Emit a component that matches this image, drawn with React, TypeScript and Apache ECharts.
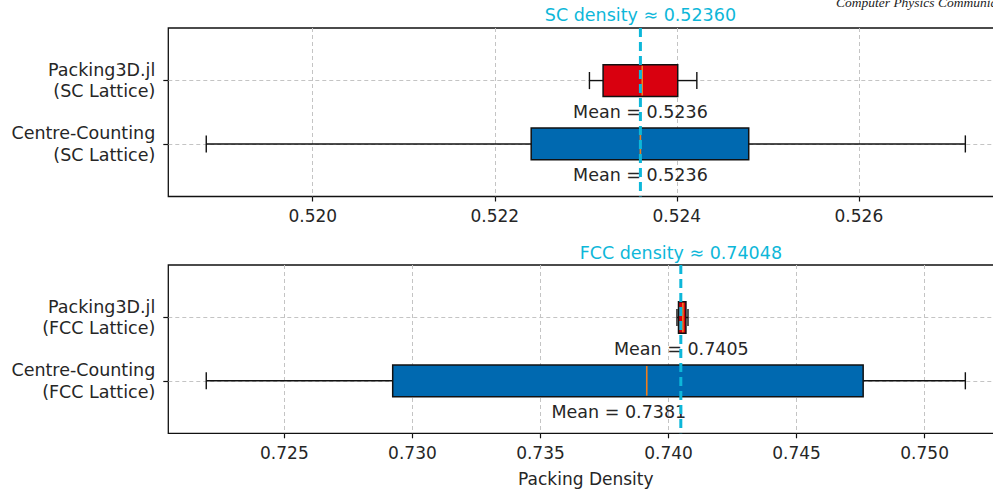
import React, { useEffect, useRef } from 'react';
import * as echarts from 'echarts';

// Rows: index 0 = Centre-Counting (lower row), index 1 = Packing3D.jl (upper row)
const rowPositions = [1, 2];
const scLabels = ['Centre-Counting\n(SC Lattice)', 'Packing3D.jl\n(SC Lattice)'];
const fccLabels = ['Centre-Counting\n(FCC Lattice)', 'Packing3D.jl\n(FCC Lattice)'];

// [whisker low, Q1, median, Q3, whisker high]
const scStats = [
  [0.51883, 0.5224, 0.5236, 0.52479, 0.52717],
  [0.52304, 0.52319, 0.52362, 0.52401, 0.52422],
];
const scMeans = [0.5236, 0.5236];
const fccStats = [
  [0.72195, 0.72923, 0.73915, 0.7476, 0.75159],
  [0.74033, 0.74039, 0.74056, 0.74068, 0.74076],
];
const fccMeans = [0.73806, 0.7405];

const scTicks = [0.52, 0.522, 0.524, 0.526];
const fccTicks = [0.725, 0.73, 0.735, 0.74, 0.745, 0.75];

const scDensity = [0.5236];
const fccDensity = [0.74048];
const scDensityLabel = 'SC density ≈ 0.52360';
const fccDensityLabel = 'FCC density ≈ 0.74048';

const boxColors = ['#0069b0', '#d9000f'];
const CYAN = '#0db7d9';
const FONT = 'DejaVu Sans';
const TEXT = '#262626';

function extentWithMargin(stats: number[][]) {
  let lo = Infinity;
  let hi = -Infinity;
  stats.forEach((s) => {
    lo = Math.min(lo, s[0]);
    hi = Math.max(hi, s[4]);
  });
  const r = hi - lo;
  return [lo - 0.05 * r, hi + 0.05 * r];
}

function renderBox(params: any, api: any) {
  const idx = params.dataIndex;
  const pos = api.value(0);
  const lo = api.value(1);
  const q1 = api.value(2);
  const med = api.value(3);
  const q3 = api.value(4);
  const hi = api.value(5);
  const mean = api.value(6);
  const unit = Math.abs(api.size([0, 1])[1]);
  const boxH = 0.5 * unit;
  const capH = 0.27 * unit;
  const pLo = api.coord([lo, pos]);
  const pQ1 = api.coord([q1, pos]);
  const pMed = api.coord([med, pos]);
  const pQ3 = api.coord([q3, pos]);
  const pHi = api.coord([hi, pos]);
  const pMean = api.coord([mean, pos]);
  const yc = pLo[1];
  const black = { stroke: '#111', lineWidth: 1.4 };
  return {
    type: 'group',
    children: [
      { type: 'line', shape: { x1: pLo[0], y1: yc, x2: pQ1[0], y2: yc }, style: black },
      { type: 'line', shape: { x1: pQ3[0], y1: yc, x2: pHi[0], y2: yc }, style: black },
      { type: 'line', shape: { x1: pLo[0], y1: yc - capH / 2, x2: pLo[0], y2: yc + capH / 2 }, style: black },
      { type: 'line', shape: { x1: pHi[0], y1: yc - capH / 2, x2: pHi[0], y2: yc + capH / 2 }, style: black },
      {
        type: 'rect',
        shape: { x: pQ1[0], y: yc - boxH / 2, width: pQ3[0] - pQ1[0], height: boxH },
        style: { fill: boxColors[idx], stroke: '#111', lineWidth: 1.5 },
      },
      {
        type: 'line',
        shape: { x1: pMed[0], y1: yc - boxH / 2 + 1, x2: pMed[0], y2: yc + boxH / 2 - 1 },
        style: { stroke: '#f07d1c', lineWidth: 1.6 },
      },
      {
        type: 'text',
        x: pMean[0],
        y: yc + 31,
        style: {
          text: 'Mean = ' + mean.toFixed(4),
          fill: TEXT,
          font: '17.5px "DejaVu Sans"',
          align: 'center',
          verticalAlign: 'middle',
        },
      },
    ],
  };
}

function makeRefRenderer(label: string, dist: number) {
  return (params: any, api: any) => {
    const cs = params.coordSys;
    const x = api.coord([api.value(0), 1.5])[0];
    return {
      type: 'group',
      children: [
        {
          type: 'line',
          shape: { x1: x, y1: cs.y, x2: x, y2: cs.y + cs.height },
          style: { stroke: CYAN, lineWidth: 3, lineDash: [9, 5] },
        },
        {
          type: 'text',
          x,
          y: cs.y - dist,
          style: {
            text: label,
            fill: CYAN,
            font: '17.5px "DejaVu Sans"',
            align: 'center',
            verticalAlign: 'bottom',
          },
        },
      ],
    };
  };
}

export default function App() {
  const ref = useRef<HTMLDivElement>(null);

  useEffect(() => {
    if (!ref.current) return;
    const chart = echarts.init(ref.current, undefined, { renderer: 'svg' });
    const scExt = extentWithMargin(scStats);
    const fccExt = extentWithMargin(fccStats);
    const yMin = 1 - 52.5 / 63.3;
    const yMax = 2 + 52.5 / 63.3;

    const makeX = (gridIndex: number, ext: number[], ticks: number[], name: string) => ({
      type: 'value',
      gridIndex,
      min: ext[0],
      max: ext[1],
      name,
      nameLocation: 'middle',
      nameGap: 37,
      nameTextStyle: { fontFamily: FONT, fontSize: 17, color: TEXT },
      axisLine: { show: false },
      axisTick: { show: true, length: 5, customValues: ticks, lineStyle: { color: '#111', width: 1.2 } },
      axisLabel: {
        customValues: ticks,
        formatter: (v: number) => v.toFixed(3),
        fontFamily: FONT,
        fontSize: 17,
        color: TEXT,
        margin: 11,
      },
      splitLine: { show: true, lineStyle: { color: '#c4c4c4', type: [4, 3], width: 1 } },
    });

    const makeY = (gridIndex: number, labels: string[]) => ({
      type: 'value',
      gridIndex,
      min: yMin,
      max: yMax,
      axisLine: { show: false },
      axisTick: { show: true, length: 5, customValues: rowPositions, lineStyle: { color: '#111', width: 1.2 } },
      axisLabel: {
        customValues: rowPositions,
        formatter: (v: number) => labels[rowPositions.indexOf(Math.round(v))] || '',
        fontFamily: FONT,
        fontSize: 17.5,
        lineHeight: 21.6,
        color: TEXT,
        align: 'right',
        margin: 13,
      },
      splitLine: { show: true, lineStyle: { color: '#c4c4c4', type: [4, 3], width: 1 } },
    });

    const boxData = (stats: number[][], means: number[]) =>
      stats.map((s, i) => [rowPositions[i], s[0], s[1], s[2], s[3], s[4], means[i]]);

    chart.setOption({
      animation: false,
      backgroundColor: '#ffffff',
      grid: [
        { left: 168.3, top: 28, width: 835, height: 168.5, show: true, borderColor: '#111', borderWidth: 1.3, backgroundColor: 'transparent', outerBoundsMode: 'none' },
        { left: 168.3, top: 265, width: 835, height: 168.3, show: true, borderColor: '#111', borderWidth: 1.3, backgroundColor: 'transparent', outerBoundsMode: 'none' },
      ],
      xAxis: [makeX(0, scExt, scTicks, ''), makeX(1, fccExt, fccTicks, 'Packing Density')],
      yAxis: [makeY(0, scLabels), makeY(1, fccLabels)],
      graphic: [
        {
          type: 'text',
          left: 836,
          top: -5,
          style: {
            text: 'Computer Physics Communications',
            fill: '#222',
            font: 'italic 13.5px "Liberation Serif"',
          },
        },
      ],
      series: [
        {
          type: 'custom',
          xAxisIndex: 0,
          yAxisIndex: 0,
          renderItem: renderBox,
          encode: { x: [1, 2, 3, 4, 5, 6], y: 0 },
          data: boxData(scStats, scMeans),
          z: 3,
        },
        {
          type: 'custom',
          xAxisIndex: 1,
          yAxisIndex: 1,
          renderItem: renderBox,
          encode: { x: [1, 2, 3, 4, 5, 6], y: 0 },
          data: boxData(fccStats, fccMeans),
          z: 3,
        },
        {
          type: 'custom',
          xAxisIndex: 0,
          yAxisIndex: 0,
          renderItem: makeRefRenderer(scDensityLabel, 4.5),
          encode: { x: 0 },
          data: scDensity.map((v) => [v]),
          z: 10,
        },
        {
          type: 'custom',
          xAxisIndex: 1,
          yAxisIndex: 1,
          renderItem: makeRefRenderer(fccDensityLabel, 3.5),
          encode: { x: 0 },
          data: fccDensity.map((v) => [v]),
          z: 10,
        },
      ],
    });
    return () => chart.dispose();
  }, []);

  return (
    <div
      ref={ref}
      style={{ position: 'fixed', left: 0, top: 0, width: 993, height: 494, overflow: 'hidden', background: '#fff' }}
    />
  );
}
